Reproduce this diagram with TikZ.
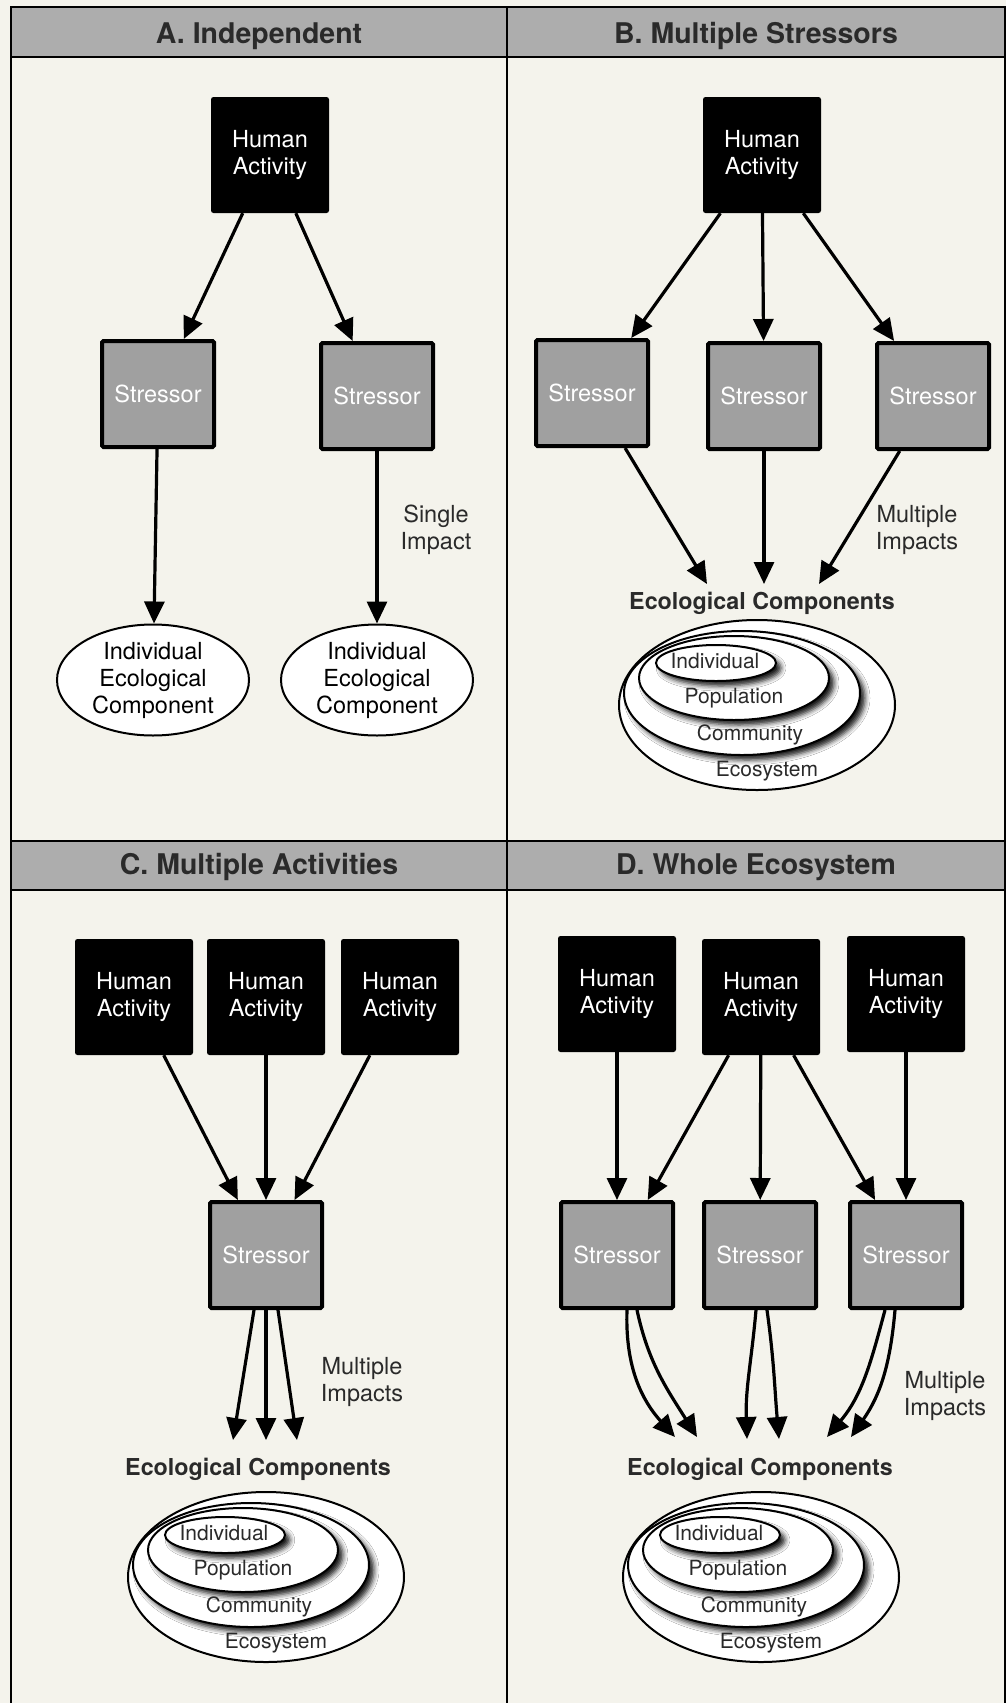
\documentclass[tikz,border=0pt]{standalone}
\usepackage{fontspec}
\setmainfont{TeX Gyre Heros}
\usepackage{tikz}
\usetikzlibrary{positioning,calc,arrows.meta,shapes.geometric,shadows.blur}

\definecolor{paper}{HTML}{F4F3EC}
\definecolor{headgray}{HTML}{ADADAD}
\definecolor{boxgray}{HTML}{A0A0A0}
\definecolor{inkgray}{HTML}{2A2A2A}

\begin{document}
\begin{tikzpicture}
	[   x=1pt,y=-1pt,
	    act/.style={fill=black,rounded corners=2.5pt,text=white,align=center,minimum width=118pt,minimum height=116pt,font=\fontsize{23.5}{27}\selectfont},
	    stress/.style={draw=black,line width=4pt,fill=boxgray,rounded corners=1.5pt,text=white,minimum width=112pt,minimum height=106pt,font=\fontsize{23.5}{27}\selectfont},
	    comp/.style={draw=black,line width=2pt,fill=white,ellipse,inner sep=0pt,align=center,minimum width=192pt,minimum height=111pt,font=\fontsize{23.5}{27}\selectfont},
	    outer/.style={draw=black,line width=2pt,fill=white,ellipse,inner sep=0pt},
	    nest/.style={outer,blur shadow={shadow xshift=5pt,shadow yshift=-5pt,shadow blur radius=5pt,shadow opacity=90}},
	    rim/.style={draw=black,line width=2.5pt},
	    title/.style={font=\fontsize{28.5}{32}\bfseries\selectfont,text=inkgray},
	    note/.style={font=\fontsize{23.5}{27}\selectfont,text=inkgray,align=center},
	    lvl/.style={font=\fontsize{21}{24}\selectfont,text=inkgray},
	    ecolabel/.style={font=\fontsize{23.3}{27}\bfseries\selectfont,text=inkgray},
	]
	\tikzset{normal arrow/.style={draw,line width=3.2pt,-{Triangle[length=22pt,width=20pt]}}}

	\fill[paper] (0,0) rectangle (1006,1703);
	\useasboundingbox (0,0) rectangle (1006,1703);

	\fill[headgray] (11,7) rectangle (1005,57);
	\fill[headgray] (11,841) rectangle (1005,890);
	\draw[rim] (11,1703) -- (11,7) -- (1005,7) -- (1005,1703);
	\draw[rim] (11,57) -- (1005,57);
	\draw[rim] (11,841) -- (1005,841);
	\draw[rim] (11,890) -- (1005,890);
	\draw[rim] (507,7) -- (507,1703);

	\node[title] (t-a) at (259,36) {A. Independent};
	\node[title] (t-b) at (756,36) {B. Multiple Stressors};
	\node[title] (t-c) at (259,867) {C. Multiple Activities};
	\node[title] (t-d) at (756,867) {D. Whole Ecosystem};

	% A
	\node[act] (a-h) at (270,155) {Human\\Activity};
	\node[stress] (a-s1) at (158,394) {Stressor};
	\node[stress] (a-s2) at (377,396) {Stressor};
	\node[comp] (a-c1) at (153,680) {Individual\\Ecological\\Component};
	\node[comp] (a-c2) at (377,680) {Individual\\Ecological\\Component};
	\node[note] (a-n) at (436,530) {Single\\Impact};

	\foreach \y in {1,2}
	{
		\path[normal arrow] (a-h) -- (a-s\y);
		\path[normal arrow] (a-s\y) -- (a-c\y);
	}

	% B
	\node[act] (b-h) at (762,155) {Human\\Activity};
	\node[stress] (b-s1) at (592,393) {Stressor};
	\node[stress] (b-s2) at (764,396) {Stressor};
	\node[stress] (b-s3) at (933,396) {Stressor};
	\node[ecolabel] (b-e) at (762,603) {Ecological Components};
	\node[note] (b-n) at (917,530) {Multiple\\Impacts};
	\coordinate (b-t1) at (707,584);
	\coordinate (b-t2) at (764,584);
	\coordinate (b-t3) at (819,584);

	\foreach \x in {1,...,3}
	{
		\path[normal arrow] (b-h) -- (b-s\x);
		\path[normal arrow] (b-s\x) -- (b-t\x);
	}

	% C
	\node[act] (c-h1) at (134,997) {Human\\Activity};
	\node[act] (c-h2) at (266,997) {Human\\Activity};
	\node[act] (c-h3) at (400,997) {Human\\Activity};
	\node[stress] (c-s) at (266,1255) {Stressor};
	\node[ecolabel] (c-e) at (258,1469) {Ecological Components};
	\node[note] (c-n) at (362,1382) {Multiple\\Impacts};
	\coordinate (c-t1) at (233,1440);
	\coordinate (c-t2) at (266,1440);
	\coordinate (c-t3) at (297,1440);

	\foreach \x/\dx in {1/-12,2/0,3/12}
	{
		\path[normal arrow] (c-h\x) -- (c-s);
		\path[normal arrow] ([xshift=\dx pt]c-s.south) -- (c-t\x);
	}

	% D
	\node[act] (d-h1) at (617,994) {Human\\Activity};
	\node[act] (d-h2) at (761,997) {Human\\Activity};
	\node[act] (d-h3) at (906,994) {Human\\Activity};
	\node[stress] (d-s1) at (617,1255) {Stressor};
	\node[stress] (d-s2) at (760,1255) {Stressor};
	\node[stress] (d-s3) at (906,1255) {Stressor};
	\node[ecolabel] (d-e) at (760,1469) {Ecological Components};
	\node[note] (d-n) at (945,1396) {Multiple\\Impacts};
	\coordinate (d-t1) at (675,1437);
	\coordinate (d-t2) at (697,1437);
	\coordinate (d-t3) at (747,1439);
	\coordinate (d-t4) at (779,1439);
	\coordinate (d-t5) at (827,1437);
	\coordinate (d-t6) at (851,1437);

	\path[normal arrow] (d-h1) -- (d-s1);
	\path[normal arrow] (d-h3) -- (d-s3);
	\foreach \y in {1,...,3}
	{
		\path[normal arrow] (d-h2) -- (d-s\y);
	}

	\path[normal arrow] ([xshift=10pt]d-s1.south) to[out=-92,in=132] (d-t1);
	\path[normal arrow] ([xshift=20pt]d-s1.south) to[out=-78,in=122] (d-t2);
	\path[normal arrow] ([xshift=-4pt]d-s2.south) to[out=-95,in=92] (d-t3);
	\path[normal arrow] ([xshift=7pt]d-s2.south) to[out=-82,in=95] (d-t4);
	\path[normal arrow] ([xshift=-21pt]d-s3.south) to[out=-105,in=50] (d-t5);
	\path[normal arrow] ([xshift=-11pt]d-s3.south) to[out=-95,in=55] (d-t6);

	% nested components
	\foreach \p/\cx/\cy in {b/757/705,c/266/1577,d/761/1577}
	{
		\node[outer,minimum width=276pt,minimum height=170pt] (\p-eco) at (\cx,\cy) {};
		\node[nest,minimum width=236pt,minimum height=124pt] (\p-com) at (\cx-15,\cy-12) {};
		\node[nest,minimum width=190pt,minimum height=84pt] (\p-pop) at (\cx-23,\cy-27) {};
		\node[nest,minimum width=120pt,minimum height=36pt] (\p-ind) at (\cx-41,\cy-42) {};
		\node[lvl] (\p-ind-l) at (\cx-42,\cy-44) {Individual};
		\node[lvl] (\p-pop-l) at (\cx-23,\cy-7) {Population};
		\node[lvl] (\p-com-l) at (\cx-7,\cy+30) {Community};
		\node[lvl] (\p-eco-l) at (\cx+10,\cy+66) {Ecosystem};
	}
\end{tikzpicture}
\end{document}
